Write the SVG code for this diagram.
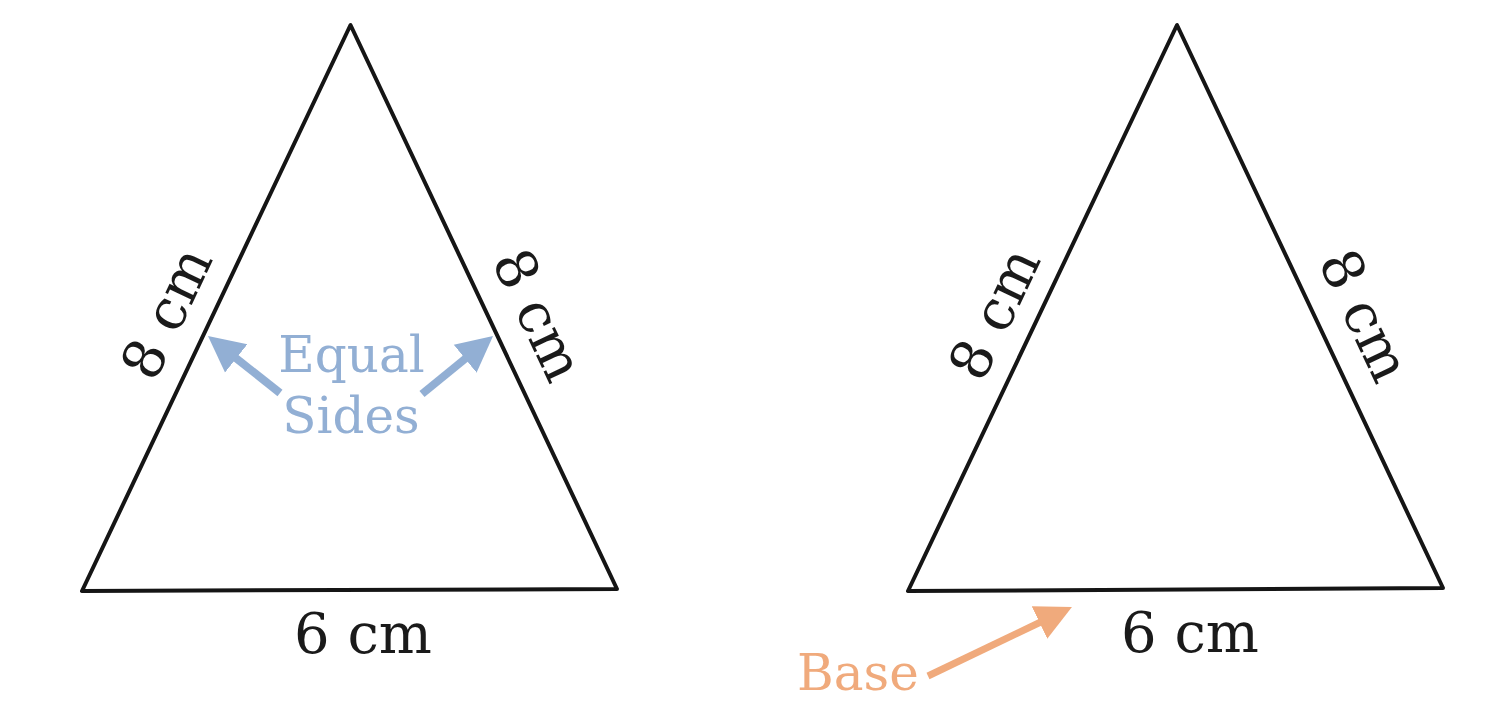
<svg xmlns="http://www.w3.org/2000/svg" width="1488" height="715" viewBox="0 0 1488 715">
  <style>
    .tri { fill: none; stroke: #151515; stroke-width: 4; stroke-linejoin: round; stroke-linecap: round; }
    .dim { font-family: "DejaVu Serif", "Liberation Serif", serif; font-size: 56px; fill: #1a1a1a; text-anchor: middle; }
    .note { font-family: "DejaVu Serif", "Liberation Serif", serif; font-size: 50px; }
    .blue { fill: #92afd4; }
    .orange { fill: #f0aa7c; }
    .arrow-blue { stroke: #92afd4; stroke-width: 8; fill: none; }
    .arrow-orange { stroke: #f0aa7c; stroke-width: 7; fill: none; }
  </style>
  <defs>
    <marker id="head-blue" markerUnits="userSpaceOnUse" markerWidth="40" markerHeight="40" viewBox="0 -20 40 40" refX="6" refY="0" orient="auto">
      <path d="M0,-18 L36,0 L0,18 Z" fill="#92afd4"/>
    </marker>
    <marker id="head-orange" markerUnits="userSpaceOnUse" markerWidth="40" markerHeight="40" viewBox="0 -20 40 40" refX="6" refY="0" orient="auto">
      <path d="M0,-18 L36,0 L0,18 Z" fill="#f0aa7c"/>
    </marker>
  </defs>
  <rect x="0" y="0" width="1488" height="715" fill="#ffffff"/>

  <g id="triangle-left">
    <polygon class="tri" points="350.5,25 82,591 617,589"/>
    <text class="dim" transform="translate(168.5,314) rotate(-64.7)" x="0" y="17">8 cm</text>
    <text class="dim" transform="translate(536,316) rotate(64.7)" x="0" y="17">8 cm</text>
    <text class="dim" x="363" y="653">6 cm</text>
  </g>

  <g id="triangle-right">
    <polygon class="tri" points="1177,25 908,591 1443,588"/>
    <text class="dim" transform="translate(996.5,314.5) rotate(-64.6)" x="0" y="17">8 cm</text>
    <text class="dim" transform="translate(1362.5,316.5) rotate(64.7)" x="0" y="17">8 cm</text>
    <text class="dim" x="1190" y="652">6 cm</text>
  </g>

  <g id="label-equal-sides">
    <text class="note blue" x="351.5" y="372" text-anchor="middle">Equal</text>
    <text class="note blue" x="351" y="433" text-anchor="middle">Sides</text>
  </g>

  <g id="label-base">
    <text class="note orange" x="797" y="690">Base</text>
  </g>

  <g id="connectors">
    <line class="arrow-blue" x1="280" y1="393" x2="231.5" y2="354.6" marker-end="url(#head-blue)"/>
    <line class="arrow-blue" x1="422" y1="394" x2="469.8" y2="355" marker-end="url(#head-blue)"/>
    <line class="arrow-orange" x1="928" y1="676" x2="1044.9" y2="620" marker-end="url(#head-orange)"/>
  </g>
</svg>
